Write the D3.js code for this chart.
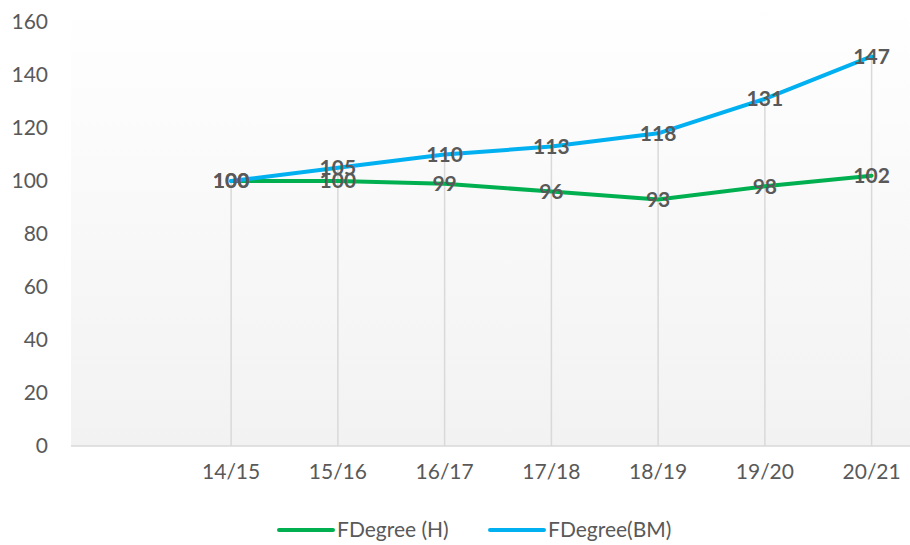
<!DOCTYPE html>
<html>
<head>
<meta charset="utf-8">
<script src="https://cdn.jsdelivr.net/npm/d3@7"></script>
<style>
  body { margin: 0; background: #fff; }
  svg { display: block; font-family: Lato, "Open Sans", sans-serif; }
</style>
</head>
<body>
<svg width="910" height="545"></svg>
<script>
// data
const categories = ["", "14/15", "15/16", "16/17", "17/18", "18/19", "19/20", "20/21"];
const years = categories.slice(1);
const degreeH = [100, 100, 99, 96, 93, 98, 102];
const degreeBM = [100, 105, 110, 113, 118, 131, 147];
const yTicks = [0, 20, 40, 60, 80, 100, 120, 140, 160];

const series = [
  { name: "FDegree (H)", values: degreeH, color: "#00b050" },
  { name: "FDegree(BM)", values: degreeBM, color: "#00b0f0" }
];

const svg = d3.select("svg");
const plotLeft = 71, plotRight = 925, plotTop = 22, plotBottom = 446;
const fontSize = "21px";

const x = d3.scaleBand().domain(categories).range([plotLeft, plotRight]);
const y = d3.scaleLinear().domain([0, 160]).range([plotBottom, plotTop]);
const cx = d => x(d) + x.bandwidth() / 2;

// plot area gradient
const grad = svg.append("defs").append("linearGradient")
  .attr("id", "bg").attr("x1", 0).attr("y1", 0).attr("x2", 0).attr("y2", 1);
grad.append("stop").attr("offset", "0%").attr("stop-color", "#ffffff");
grad.append("stop").attr("offset", "100%").attr("stop-color", "#f2f2f2");

svg.append("rect")
  .attr("x", plotLeft).attr("y", 0)
  .attr("width", 910 - plotLeft).attr("height", plotBottom)
  .attr("fill", "url(#bg)");

// drop lines
svg.append("g").selectAll("line").data(years).join("line")
  .attr("x1", cx).attr("x2", cx)
  .attr("y1", (d, i) => y(Math.max(degreeH[i], degreeBM[i])))
  .attr("y2", plotBottom)
  .attr("stroke", "#d9d9d9").attr("stroke-width", 1.5);

// baseline
svg.append("line")
  .attr("x1", plotLeft).attr("x2", 910)
  .attr("y1", plotBottom).attr("y2", plotBottom)
  .attr("stroke", "#d9d9d9").attr("stroke-width", 1.5);

// y axis labels
const yAxis = d3.axisLeft(y).tickValues(yTicks).tickSize(0).tickPadding(0);
const yG = svg.append("g").attr("transform", "translate(48,0)").call(yAxis);
yG.select(".domain").remove();
yG.selectAll("text").attr("fill", "#595959").style("font-size", fontSize)
  .style("font-family", "Lato, 'Open Sans', sans-serif");

// x axis labels
const xAxis = d3.axisBottom(x).tickValues(years).tickSize(0).tickPadding(0);
const xG = svg.append("g").attr("transform", `translate(0,${plotBottom + 18})`).call(xAxis);
xG.select(".domain").remove();
xG.selectAll("text").attr("fill", "#595959").style("font-size", fontSize)
  .style("font-family", "Lato, 'Open Sans', sans-serif");

// lines
const line = d3.line().x((d, i) => cx(years[i])).y(d => y(d));
svg.append("g").selectAll("path").data(series).join("path")
  .attr("d", s => line(s.values))
  .attr("fill", "none")
  .attr("stroke", s => s.color)
  .attr("stroke-width", 4)
  .attr("stroke-linejoin", "round")
  .attr("stroke-linecap", "round");

// data labels
series.forEach(s => {
  svg.append("g").selectAll("text").data(s.values).join("text")
    .attr("x", (d, i) => cx(years[i]))
    .attr("y", d => y(d))
    .attr("dy", "0.35em")
    .attr("text-anchor", "middle")
    .attr("fill", "#595959")
    .style("font-size", fontSize)
    .style("font-weight", "bold")
    .text(d => d);
});

// legend
const legend = svg.append("g").selectAll("g").data(series).join("g")
  .attr("transform", (d, i) => `translate(${[279, 490][i]},530)`);
legend.append("line")
  .attr("x1", 0).attr("x2", 54)
  .attr("stroke", d => d.color).attr("stroke-width", 4)
  .attr("stroke-linecap", "round");
legend.append("text")
  .attr("x", 58).attr("dy", "0.35em")
  .attr("fill", "#595959").style("font-size", fontSize)
  .text(d => d.name);
</script>
</body>
</html>
